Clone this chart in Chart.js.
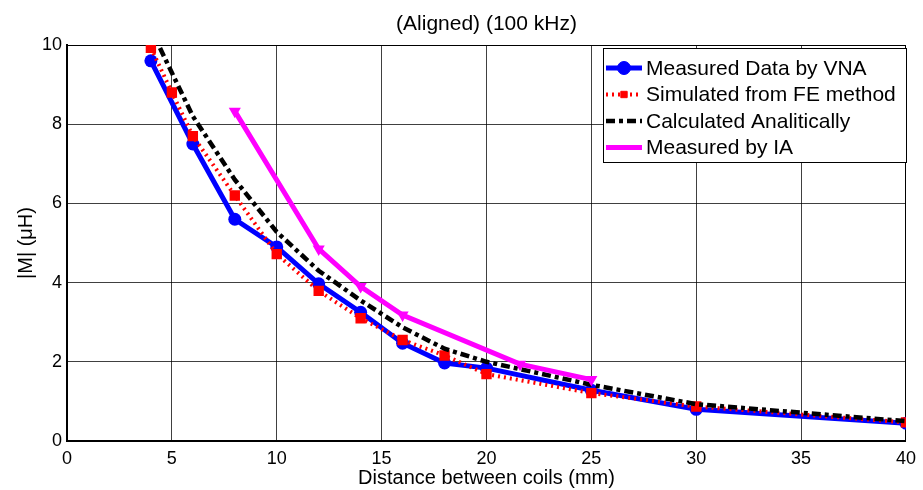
<!DOCTYPE html>
<html lang="en">
<head>
  <meta charset="UTF-8" />
  <title>Mutual inductance vs distance</title>
  <script src="https://cdn.jsdelivr.net/npm/chart.js"></script>
  <style>
    body { margin: 0; background: #fff; }
    canvas { display: block; }
  </style>
</head>
<body>
  <canvas id="mChart" width="923" height="490"></canvas>
  <script>
    // distances in mm, |M| in uH
    const vnaX = [4, 6, 8, 10, 12, 14, 16, 18, 20, 25, 30, 40];
    const vnaM = [9.6, 7.5, 5.6, 4.9, 3.97, 3.25, 2.47, 1.97, 1.84, 1.28, 0.8, 0.45];
    const feX = [4, 5, 6, 8, 10, 12, 14, 16, 18, 20, 25, 30, 40];
    const feM = [9.93, 8.8, 7.7, 6.2, 4.72, 3.79, 3.1, 2.55, 2.16, 1.69, 1.21, 0.87, 0.47];
    const calcX = [4, 5, 6, 8, 10, 12, 14, 16, 18, 20, 25, 30, 40];
    const calcM = [10.4, 9.3, 8.2, 6.6, 5.28, 4.3, 3.55, 2.87, 2.33, 2.0, 1.42, 0.93, 0.5];
    const iaX = [8, 12, 14, 16, 21.6, 25];
    const iaM = [8.33, 4.85, 3.9, 3.18, 1.94, 1.55];

    const seriesNames = ['Measured Data by VNA', 'Simulated from FE method', 'Calculated Analitically', 'Measured by IA'];
    const xTicks = [0, 5, 10, 15, 20, 25, 30, 35, 40];
    const yTicks = [0, 2, 4, 6, 8, 10];
    const titleText = '(Aligned) (100 kHz)';

    const FONT = '"Liberation Sans", Arial, Helvetica, sans-serif';
    const pts = (xs, ys) => xs.map((x, i) => ({ x: x, y: ys[i] }));

    // title + boxed legend inside the top right of the axes
    const decorations = {
      id: 'decorations',
      afterDraw(chart) {
        const ctx = chart.ctx;
        const area = chart.chartArea;
        ctx.save();
        ctx.fillStyle = '#000';
        ctx.font = '21px ' + FONT;
        ctx.textAlign = 'center';
        ctx.textBaseline = 'alphabetic';
        ctx.fillText(titleText, (area.left + area.right) / 2, 30);

        const bx = 603, by = 48, bw = 303, bh = 114;
        ctx.fillStyle = '#fff';
        ctx.fillRect(bx, by, bw, bh);
        ctx.strokeStyle = '#000';
        ctx.lineWidth = 1;
        ctx.strokeRect(bx + 0.5, by + 0.5, bw, bh);

        chart.data.datasets.forEach((ds, i) => {
          const y = 68 + i * 26.5;
          ctx.save();
          ctx.strokeStyle = ds.borderColor;
          ctx.lineWidth = ds.borderWidth;
          ctx.setLineDash(ds.borderDash || []);
          ctx.beginPath();
          ctx.moveTo(606, y);
          ctx.lineTo(642, y);
          ctx.stroke();
          ctx.restore();
          if (ds.pointRadius > 0) {
            ctx.save();
            ctx.fillStyle = ds.pointBackgroundColor;
            ctx.strokeStyle = ds.pointBorderColor;
            Chart.helpers.drawPoint(ctx, {
              pointStyle: ds.pointStyle,
              radius: ds.pointRadius,
              rotation: ds.pointRotation || 0,
              borderWidth: 1
            }, 624, y);
            ctx.restore();
          }
          ctx.fillStyle = '#000';
          ctx.font = '21px ' + FONT;
          ctx.textAlign = 'left';
          ctx.textBaseline = 'middle';
          ctx.fillText(ds.label, 646, y + 1);
        });
        ctx.restore();
      }
    };

    new Chart(document.getElementById('mChart'), {
      type: 'line',
      data: {
        datasets: [
          {
            label: seriesNames[0],
            data: pts(vnaX, vnaM),
            borderColor: '#0000ff',
            borderWidth: 5,
            pointStyle: 'circle',
            pointRadius: 6.5,
            pointBorderWidth: 0,
            pointBackgroundColor: '#0000ff',
            pointBorderColor: '#0000ff',
            order: 4
          },
          {
            label: seriesNames[1],
            data: pts(feX, feM),
            borderColor: '#ff0000',
            borderWidth: 4,
            borderDash: [2, 4],
            pointStyle: 'rect',
            pointRadius: 4.5,
            pointBackgroundColor: '#ff0000',
            pointBorderColor: '#ff0000',
            order: 3
          },
          {
            label: seriesNames[2],
            data: pts(calcX, calcM),
            borderColor: '#000000',
            borderWidth: 4.5,
            borderDash: [9, 4, 4, 4],
            pointRadius: 0,
            order: 2
          },
          {
            label: seriesNames[3],
            data: pts(iaX, iaM),
            borderColor: '#ff00ff',
            borderWidth: 5,
            pointStyle: 'triangle',
            pointRotation: 180,
            pointRadius: 2,
            pointBackgroundColor: '#ff00ff',
            pointBorderColor: '#ff00ff',
            order: 1
          }
        ]
      },
      options: {
        responsive: false,
        animation: false,
        events: [],
        layout: { padding: { top: 45, right: 12, left: 0, bottom: 0 } },
        elements: { line: { tension: 0, fill: false } },
        plugins: {
          legend: { display: false },
          tooltip: { enabled: false },
          title: { display: false }
        },
        scales: {
          x: {
            type: 'linear',
            min: 0,
            max: 40,
            afterFit: s => { s.height = 49; },
            afterBuildTicks: s => { s.ticks = xTicks.map(v => ({ value: v })); },
            ticks: { color: '#000', padding: 7, maxRotation: 0, font: { family: FONT, size: 18 } },
            grid: { color: 'rgba(0,0,0,0.75)', lineWidth: 1, drawTicks: false },
            border: { color: '#000', width: 2 },
            title: {
              display: true,
              text: 'Distance between coils (mm)',
              color: '#000',
              padding: 0,
              font: { family: FONT, size: 20 }
            }
          },
          y: {
            min: 0,
            max: 10,
            afterFit: s => { s.width = 67; },
            afterBuildTicks: s => { s.ticks = yTicks.map(v => ({ value: v })); },
            ticks: { color: '#000', padding: 5, font: { family: FONT, size: 18 } },
            grid: { color: 'rgba(0,0,0,0.75)', lineWidth: 1, drawTicks: false },
            border: { color: '#000', width: 2 },
            title: {
              display: true,
              text: '|M| (μH)',
              color: '#000',
              padding: 14,
              font: { family: FONT, size: 20 }
            }
          },
          x2: {
            type: 'linear',
            position: 'top',
            min: 0,
            max: 40,
            display: true,
            afterFit: s => { s.height = 0; },
            ticks: { display: false },
            grid: { display: false, drawTicks: false },
            border: { color: '#000', width: 1 }
          },
          y2: {
            position: 'right',
            min: 0,
            max: 10,
            display: true,
            afterFit: s => { s.width = 0; },
            ticks: { display: false },
            grid: { display: false, drawTicks: false },
            border: { color: '#000', width: 1 }
          }
        }
      },
      plugins: [decorations]
    });
  </script>
</body>
</html>
